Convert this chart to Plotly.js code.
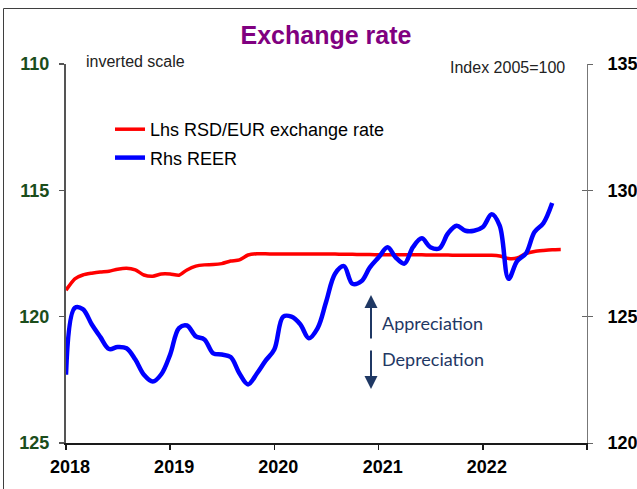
<!DOCTYPE html>
<html>
<head>
<meta charset="utf-8">
<script src="https://cdn.plot.ly/plotly-3.0.1.min.js"></script>
<style>
  html, body { margin: 0; padding: 0; background: #ffffff; }
  #chart { width: 637px; height: 489px; }
</style>
</head>
<body>
<div id="chart"></div>
<script>
// ---- data ----
const months = [
  '2018-01','2018-02','2018-03','2018-04','2018-05','2018-06','2018-07','2018-08','2018-09','2018-10','2018-11','2018-12',
  '2019-01','2019-02','2019-03','2019-04','2019-05','2019-06','2019-07','2019-08','2019-09','2019-10','2019-11','2019-12',
  '2020-01','2020-02','2020-03','2020-04','2020-05','2020-06','2020-07','2020-08','2020-09','2020-10','2020-11','2020-12',
  '2021-01','2021-02','2021-03','2021-04','2021-05','2021-06','2021-07','2021-08','2021-09','2021-10','2021-11','2021-12',
  '2022-01','2022-02','2022-03','2022-04','2022-05','2022-06','2022-07','2022-08','2022-09','2022-10'
];
// Lhs: RSD/EUR exchange rate (inverted scale)
const rsdEur = [
  118.95,118.50,118.35,118.28,118.23,118.20,118.12,118.08,118.15,118.35,118.40,118.31,
  118.31,118.36,118.15,118.00,117.95,117.94,117.90,117.80,117.75,117.56,117.51,117.51,
  117.52,117.52,117.52,117.52,117.52,117.52,117.52,117.52,117.53,117.53,117.54,117.54,
  117.55,117.55,117.55,117.55,117.55,117.55,117.56,117.56,117.56,117.57,117.57,117.57,
  117.57,117.57,117.60,117.70,117.68,117.50,117.42,117.38,117.35,117.34
];
// Rhs: REER, index 2005=100
const reer = [
  122.70,125.35,125.30,124.70,124.20,123.72,123.80,123.75,123.30,122.70,122.43,122.72,
  123.50,124.55,124.65,124.22,124.10,123.55,123.50,123.40,122.75,122.32,122.75,123.25,
  123.70,125.00,125.00,124.70,124.15,124.55,125.60,126.70,127.00,126.30,126.40,126.95,
  127.35,127.75,127.35,127.10,127.75,128.10,127.75,127.70,128.30,128.60,128.40,128.40,
  128.55,129.05,128.60,126.50,127.20,127.50,128.35,128.70,129.50
];
const xTickVals = ['2018-01-01','2019-01-01','2020-01-01','2021-01-01','2022-01-01','2023-01-01'];
const xTickText = ['2018','2019','2020','2021','2022',''];
const lhsTicks = [110,115,120,125];
const rhsTicks = [120,125,130,135];
const seriesNames = ['Lhs RSD/EUR exchange rate','Rhs REER'];
const titleText = 'Exchange rate';
const noteLeft = 'inverted scale';
const noteRight = 'Index 2005=100';
const arrowUpText = 'Appreciation';
const arrowDownText = 'Depreciation';

// ---- layout geometry ----
const W = 637, H = 489;
const M = {l: 66, r: 50, t: 64, b: 46};
const PW = W - M.l - M.r, PH = H - M.t - M.b;
const px = x => (x - M.l) / PW;
const py = y => 1 - (y - M.t) / PH;

const FONT = '"Liberation Sans", Arial, sans-serif';
const NAVY = '#1f3864';

const traces = [
  {
    x: months.slice(0, rsdEur.length), y: rsdEur, name: seriesNames[0],
    type: 'scatter', mode: 'lines', yaxis: 'y', legendgroup: 'a',
    line: {color: '#ff0000', width: 3.5, shape: 'spline', smoothing: 0.6}
  },
  {
    x: months.slice(0, reer.length), y: reer, name: seriesNames[1],
    type: 'scatter', mode: 'lines', yaxis: 'y2', legendgroup: 'b',
    line: {color: '#0000ff', width: 4.5, shape: 'spline', smoothing: 1}
  },
  { x: [], y: [], yaxis: 'y3', showlegend: false, hoverinfo: 'skip', type: 'scatter', mode: 'lines' }
];

const layout = {
  width: W, height: H,
  margin: M,
  paper_bgcolor: '#ffffff', plot_bgcolor: 'rgba(0,0,0,0)',
  font: {family: FONT, color: '#000000'},
  showlegend: true,
  title: {
    text: titleText,
    font: {family: FONT, size: 25, color: '#800080', weight: 'bold'},
    x: px(326), xref: 'paper', xanchor: 'center',
    y: 1 - 35 / H, yref: 'container', yanchor: 'middle'
  },
  xaxis: {
    type: 'date', range: ['2018-01-01', '2023-01-01'],
    tickvals: xTickVals, ticktext: xTickText,
    ticks: 'outside', ticklen: 5, tickwidth: 1.5, tickcolor: '#1a1a1a',
    showline: true, linecolor: '#1a1a1a', linewidth: 2,
    showgrid: false, zeroline: false,
    tickfont: {family: FONT, size: 18, color: '#000000', weight: 'bold'},
    ticklabelshift: 4, ticklabelstandoff: 1,
    fixedrange: true
  },
  yaxis: {
    range: [125, 110], tickvals: lhsTicks,
    ticks: 'outside', ticklen: 5, tickwidth: 1.5, tickcolor: '#555555',
    showline: true, linecolor: '#555555', linewidth: 2,
    showgrid: false, zeroline: false,
    tickfont: {family: FONT, size: 18, color: '#1b4d1b', weight: 'bold'},
    ticklabelstandoff: 6
  },
  yaxis2: {
    range: [120, 135], tickvals: rhsTicks, overlaying: 'y', side: 'right',
    ticks: 'outside', ticklen: 5, tickwidth: 1, tickcolor: '#666666',
    showline: true, linecolor: '#777777', linewidth: 1,
    showgrid: false, zeroline: false,
    tickfont: {family: FONT, size: 18, color: '#000000', weight: 'bold'},
    ticklabelstandoff: 11
  },
  yaxis3: {
    range: [120, 135], tickvals: rhsTicks, overlaying: 'y', side: 'right',
    ticks: 'inside', ticklen: 5, tickwidth: 1, tickcolor: '#666666',
    showline: false, showgrid: false, zeroline: false, showticklabels: false
  },
  legend: {
    x: px(110), y: py(111), xanchor: 'left', yanchor: 'top',
    bgcolor: 'rgba(0,0,0,0)', borderwidth: 0,
    font: {family: FONT, size: 18, color: '#000000'},
    tracegroupgap: 2, itemwidth: 30
  },
  annotations: [
    {xref: 'paper', yref: 'paper', x: px(84), y: py(62), xanchor: 'left', yanchor: 'middle',
     text: noteLeft, showarrow: false, font: {family: FONT, size: 16, color: '#222222'}},
    {xref: 'paper', yref: 'paper', x: px(567), y: py(67), xanchor: 'right', yanchor: 'middle',
     text: noteRight, showarrow: false, font: {family: FONT, size: 16, color: '#222222'}},
    {xref: 'paper', yref: 'paper', x: px(371), y: py(295), ax: 0, ay: 45, text: '',
     showarrow: true, arrowhead: 2, arrowsize: 1.3, arrowwidth: 2, arrowcolor: NAVY, standoff: 0, startstandoff: 0},
    {xref: 'paper', yref: 'paper', x: px(371), y: py(389), ax: 0, ay: -40, text: '',
     showarrow: true, arrowhead: 2, arrowsize: 1.3, arrowwidth: 2, arrowcolor: NAVY, standoff: 0, startstandoff: 0},
    {xref: 'paper', yref: 'paper', x: px(380), y: py(323), xanchor: 'left', yanchor: 'middle',
     text: arrowUpText, showarrow: false, font: {family: 'Lato, "Noto Sans", sans-serif', size: 18, color: NAVY}},
    {xref: 'paper', yref: 'paper', x: px(380), y: py(359), xanchor: 'left', yanchor: 'middle',
     text: arrowDownText, showarrow: false, font: {family: 'Lato, "Noto Sans", sans-serif', size: 18, color: NAVY}}
  ],
  shapes: [
    {type: 'line', xref: 'paper', yref: 'paper', x0: px(3.5), x1: px(3.5), y0: py(8.5), y1: py(495),
     line: {color: '#3f3f3f', width: 1}, layer: 'below'},
    {type: 'line', xref: 'paper', yref: 'paper', x0: px(3.5), x1: px(645), y0: py(8.5), y1: py(8.5),
     line: {color: '#3f3f3f', width: 1}, layer: 'below'}
  ]
};

Plotly.newPlot('chart', traces, layout, {displayModeBar: false, staticPlot: true});
</script>
</body>
</html>
